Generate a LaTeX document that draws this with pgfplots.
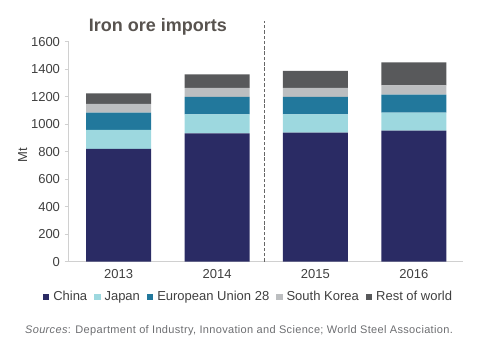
\documentclass[border=0pt]{standalone}
\usepackage{fontspec}
\setmainfont{Liberation Sans}
\usepackage{pgfplots}
\pgfplotsset{compat=1.18}
\definecolor{china}{HTML}{2A2B64}
\definecolor{japan}{HTML}{9DD8DF}
\definecolor{eu}{HTML}{22789C}
\definecolor{sk}{HTML}{BCBEC0}
\definecolor{rowc}{HTML}{58595B}
\definecolor{txt}{HTML}{404040}
\definecolor{titlec}{HTML}{58534F}
\definecolor{srcc}{HTML}{6D6E71}
\definecolor{axisgray}{HTML}{D0D0D0}
\begin{document}
\begin{tikzpicture}[x=1pt,y=1pt]
\useasboundingbox (0,0) rectangle (491,358);
\begin{axis}[
  at={(68.5pt,96.3pt)}, anchor=south west,
  width=394.5pt, height=220pt, scale only axis,
  ybar stacked, bar width=0.66,
  xmin=-0.51, xmax=3.5, ymin=0, ymax=1600,
  xtick={0,1,2,3}, xticklabels={2013,2014,2015,2016},
  ytick={0,200,...,1600},
  axis x line*=bottom, axis y line*=left,
  axis line style={axisgray, line width=1pt},
  xtick style={draw=none},
  ytick style={axisgray, line width=0.8pt},
  tick align=outside, major tick length=4pt,
  ticklabel style={font=\fontsize{13}{15}\selectfont, text=txt},
  /pgf/number format/assume math mode=true,
  /pgf/number format/1000 sep={},
  yticklabel style={xshift=-1pt},
  ylabel={Mt},
  ylabel style={at={(axis description cs:-0.116,0.485)}, anchor=center, font=\fontsize{13}{15}\selectfont, text=txt},
  clip=false,
  legend columns=5,
  legend style={at={(0.456,-0.16)}, anchor=center, draw=none, fill=none,
    font=\fontsize{13}{15}\selectfont, text=txt,
    /tikz/every even column/.append style={column sep=4.8pt},
    /tikz/every odd column/.append style={column sep=2pt},
    inner sep=0pt},
  legend image code/.code={\fill[#1,draw=none] (0pt,-3.2pt) rectangle (6.5pt,3.3pt);},
  every axis plot/.append style={draw=none},
]
\addplot[fill=china] coordinates {(0,820) (1,934) (2,938) (3,953)};
\addplot[fill=japan] coordinates {(0,138) (1,138) (2,134) (3,131)};
\addplot[fill=eu] coordinates {(0,126) (1,126) (2,126) (3,131)};
\addplot[fill=sk] coordinates {(0,63) (1,67) (2,67) (3,68)};
\addplot[fill=rowc] coordinates {(0,78) (1,98) (2,122) (3,167)};
\legend{China,Japan,European Union 28,South Korea,Rest of world}
\draw[black!60, line width=1.1pt, dash pattern=on 3.5pt off 1.8pt] (axis cs:1.478,0) -- (axis cs:1.478,1750);
\end{axis}
\node[font=\fontsize{18}{20}\selectfont\bfseries, text=titlec] at (158,331) {Iron ore imports};
\node[anchor=west, font=\fontsize{11}{13}\selectfont\addfontfeature{LetterSpace=3}, text=srcc, inner sep=0pt] at (25,27) {\textit{Sources}: Department of Industry, Innovation and Science; World Steel Association.};
\end{tikzpicture}
\end{document}
